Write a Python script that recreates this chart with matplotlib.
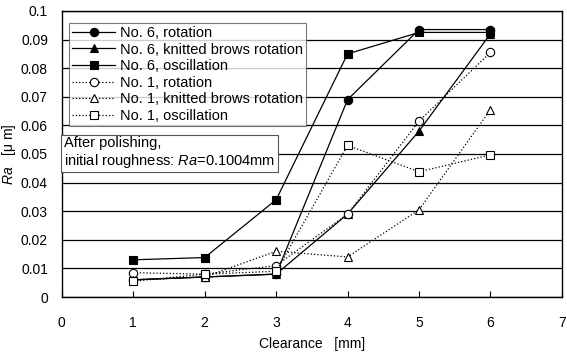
import matplotlib
matplotlib.use("Agg")
import matplotlib.pyplot as plt

plt.rcParams["font.family"] = ["Liberation Sans", "DejaVu Sans"]
plt.rcParams["mathtext.fontset"] = "custom"
plt.rcParams["mathtext.it"] = "Liberation Sans:italic"
plt.rcParams["mathtext.rm"] = "Liberation Sans"

# クリアランス [mm]
clearance = [1, 2, 3, 4, 5, 6]

# 各条件の Ra [μm]
no6_rotation = [0.006, 0.007, 0.008, 0.069, 0.0935, 0.0935]
no6_knitted = [0.006, 0.007, 0.008, 0.029, 0.058, 0.092]
no6_oscillation = [0.013, 0.0138, 0.034, 0.085, 0.0925, 0.0925]
no1_rotation = [0.0085, 0.008, 0.011, 0.029, 0.0615, 0.0855]
no1_knitted = [0.006, 0.007, 0.016, 0.014, 0.0305, 0.0655]
no1_oscillation = [0.0055, 0.008, 0.009, 0.053, 0.0438, 0.0497]

series = [
    ("No. 6, rotation", no6_rotation, "o", "-", "black"),
    ("No. 6, knitted brows rotation", no6_knitted, "^", "-", "black"),
    ("No. 6, oscillation", no6_oscillation, "s", "-", "black"),
    ("No. 1, rotation", no1_rotation, "o", ":", "white"),
    ("No. 1, knitted brows rotation", no1_knitted, "^", ":", "white"),
    ("No. 1, oscillation", no1_oscillation, "s", ":", "white"),
]

fig = plt.figure(figsize=(5.67, 3.54), dpi=100)
ax = fig.add_axes([0.109, 0.161, 0.882, 0.808])

for label, vals, mk, ls, fc in series:
    ax.plot(clearance, vals, linestyle=ls, color="black", linewidth=0.9,
            marker=mk, markersize=6, markerfacecolor=fc,
            markeredgecolor="black", markeredgewidth=0.8, label=label)

ax.set_xlim(0, 7)
ax.set_ylim(0, 0.1)
ax.set_xticks(range(0, 8))
ax.set_yticks([i / 100 for i in range(11)])
ax.set_yticklabels(["0"] + [f"{i / 100:.2f}" for i in range(1, 10)] + ["0.1"])
ax.grid(axis="y", color="black", linewidth=0.9)
ax.set_axisbelow(True)
ax.tick_params(axis="x", direction="in", length=4, labelsize=10, pad=14)
ax.tick_params(axis="y", direction="out", length=0, labelsize=10, pad=10)
for sp in ax.spines.values():
    sp.set_linewidth(1.0)

ax.set_xlabel("Clearance   [mm]", fontsize=10, labelpad=5)
ax.set_ylabel(r"$\mathit{Ra}$   [μ m]", fontsize=10, labelpad=2)

leg = ax.legend(loc="upper left", bbox_to_anchor=(0.014, 0.958), fontsize=10.5,
                frameon=True, fancybox=False, edgecolor="#555555",
                handlelength=3.0, handletextpad=0.3, labelspacing=0.18,
                borderpad=0.2, borderaxespad=0)
leg.get_frame().set_linewidth(0.8)

ax.text(0.027, 0.0505, "After polishing,\ninitial roughness: $\\mathit{Ra}$=0.1004mm",
        fontsize=10.5, va="center", ha="left", linespacing=1.15,
        bbox=dict(boxstyle="square,pad=0.2", facecolor="white",
                  edgecolor="#555555", linewidth=0.8))

fig.savefig("out.png", dpi=100)
